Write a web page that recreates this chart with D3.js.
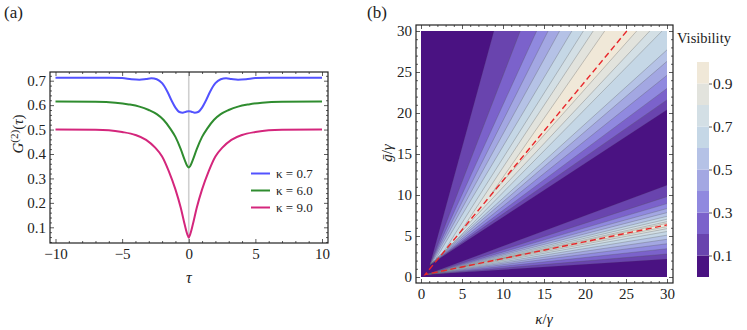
<!DOCTYPE html>
<html>
<head>
<meta charset="utf-8">
<script src="https://cdn.jsdelivr.net/npm/d3@7"></script>
<style>
body { margin: 0; background: #fff; }
svg text { font-family: 'Liberation Serif', 'DejaVu Serif', serif; fill: #222; }
</style>
</head>
<body>
<div id="chart"></div>
<script>

// ---- panel (a): G2(tau) curves
const tauBlue = [-10, -6, -5, -4.3, -3.7, -3.2, -2.8, -2.4, -2.0, -1.6, -1.3, -1.0, -0.7, -0.45, -0.2, 0,
	0.2, 0.45, 0.7, 1.0, 1.3, 1.6, 2.0, 2.4, 2.8, 3.2, 3.7, 4.3, 5, 6, 10]
const g2Blue = [0.712, 0.712, 0.711, 0.706, 0.704, 0.707, 0.710, 0.706, 0.69, 0.655, 0.62, 0.59, 0.572, 0.569, 0.573, 0.575,
	0.573, 0.569, 0.572, 0.59, 0.62, 0.655, 0.69, 0.706, 0.710, 0.707, 0.704, 0.706, 0.711, 0.712, 0.712]

const tauGreen = [-10, -7, -5.5, -4.5, -3.7, -3.0, -2.4, -1.9, -1.4, -1.0, -0.6, -0.3, -0.1, 0,
	0.1, 0.3, 0.6, 1.0, 1.4, 1.9, 2.4, 3.0, 3.7, 4.5, 5.5, 7, 10]
const g2Green = [0.615, 0.614, 0.61, 0.603, 0.594, 0.58, 0.563, 0.54, 0.505, 0.47, 0.42, 0.375, 0.35, 0.345,
	0.35, 0.375, 0.42, 0.47, 0.505, 0.54, 0.563, 0.58, 0.594, 0.603, 0.61, 0.614, 0.615]

const tauMagenta = [-10, -7, -6, -5, -4, -3.2, -2.5, -2.0, -1.5, -1.0, -0.6, -0.3, -0.1, 0,
	0.1, 0.3, 0.6, 1.0, 1.5, 2.0, 2.5, 3.2, 4, 5, 6, 7, 10]
const g2Magenta = [0.5, 0.499, 0.497, 0.49, 0.478, 0.458, 0.425, 0.39, 0.33, 0.255, 0.18, 0.11, 0.07, 0.058,
	0.07, 0.11, 0.18, 0.255, 0.33, 0.39, 0.425, 0.458, 0.478, 0.49, 0.497, 0.499, 0.5]

const legendLabels = ['κ = 0.7', 'κ = 6.0', 'κ = 9.0']
const curveColors = ['#5252ff', '#2f8c2f', '#d4267c']
const xTicksA = [-10, -5, 0, 5, 10]
const yTicksA = [0.1, 0.2, 0.3, 0.4, 0.5, 0.6, 0.7]

// ---- panel (b): visibility contours, each level = left exit -> tip on ridge -> right exit
const levels = [0.1, 0.2, 0.3, 0.4, 0.5, 0.6, 0.7, 0.8, 0.9]
const bandColors = ['#4a1282', '#6944ae', '#7b62cb', '#9089df', '#a3a7e2', '#b5c2e6', '#c5d7e6', '#d3dfe5', '#e2e3dd', '#f0e8d8']
const upperTip = [[1.1, 1.5], [1.1, 1.5], [1.1, 1.5], [1.2, 1.6], [1.4, 1.8], [1.8, 2.2], [2.6, 2.8], [4.6, 5.2], [8.5, 10.0]]
const upperLeftKappa = [8.9, 12.1, 14.1, 15.5, 16.9, 18.4, 19.8, 21.0, 22.4]
const upperRightExit = [[30, 20.4], [30, 21.6], [30, 23.0], [30, 24.6], [30, 26.3], [30, 27.7], [29.4, 30], [27.9, 30], [26.3, 30]]
const lowerTip = [[0.7, 0.3], [0.7, 0.3], [0.8, 0.32], [1.0, 0.36], [1.3, 0.42], [1.8, 0.52], [2.7, 0.72], [4.6, 1.12], [9.0, 2.05]]
const lowerTopG = [11.2, 9.8, 8.95, 8.35, 7.85, 7.4, 7.05, 6.75, 6.55]
const lowerBottomG = [2.2, 2.8, 3.45, 4.05, 4.6, 5.1, 5.55, 5.9, 6.15]
const dashedPath = [[25.1, 30], [0.5, 0.3], [30, 6.35]]
const ticksB = [0, 5, 10, 15, 20, 25, 30]
const colorbarTicks = [0.1, 0.3, 0.5, 0.7, 0.9]

const serif = "'Liberation Serif', 'DejaVu Serif', serif"

const svg = d3.select('#chart')
	.append('svg')
	.attr('width', 747)
	.attr('height', 330)
	.style('font-family', serif)

function frameAxes(g, x, y, box, xt, yt, xMinor, yMinor, fmtX, fmtY, fs){
	let [l, t, r, b] = box
	g.append('g').attr('transform', `translate(0,${b})`)
		.call(d3.axisBottom(x).tickValues(xt).tickSize(-4).tickPadding(5).tickFormat(fmtX))
	g.append('g').attr('transform', `translate(0,${b})`)
		.call(d3.axisBottom(x).tickValues(xMinor).tickSize(-2).tickFormat(''))
	g.append('g').attr('transform', `translate(0,${t})`)
		.call(d3.axisTop(x).tickValues(xt).tickSize(-4).tickFormat(''))
	g.append('g').attr('transform', `translate(0,${t})`)
		.call(d3.axisTop(x).tickValues(xMinor).tickSize(-2).tickFormat(''))
	g.append('g').attr('transform', `translate(${l},0)`)
		.call(d3.axisLeft(y).tickValues(yt).tickSize(-4).tickPadding(4).tickFormat(fmtY))
	g.append('g').attr('transform', `translate(${l},0)`)
		.call(d3.axisLeft(y).tickValues(yMinor).tickSize(-2).tickFormat(''))
	g.append('g').attr('transform', `translate(${r},0)`)
		.call(d3.axisRight(y).tickValues(yt).tickSize(-4).tickFormat(''))
	g.append('g').attr('transform', `translate(${r},0)`)
		.call(d3.axisRight(y).tickValues(yMinor).tickSize(-2).tickFormat(''))
	g.selectAll('.domain').remove()
	g.selectAll('g').attr('font-family', serif)
	g.selectAll('.tick line').attr('stroke', '#333').attr('stroke-width', 0.8)
	g.selectAll('.tick text').attr('font-size', fs).attr('fill', '#222')
	g.append('rect')
		.attr('x', l).attr('y', t)
		.attr('width', r - l).attr('height', b - t)
		.attr('fill', 'none')
		.attr('stroke', '#222')
		.attr('stroke-width', 1.2)
}

// ================= panel (a)
const gA = svg.append('g')

const xA = d3.scaleLinear().domain([-10, 10]).range([55.5, 322])
const yA = d3.scaleLinear().domain([0.1, 0.7]).range([227.3, 80.7])

gA.append('line')
	.attr('x1', xA(0)).attr('x2', xA(0))
	.attr('y1', 72).attr('y2', 243)
	.attr('stroke', '#cfcfcf')
	.attr('stroke-width', 1.6)

let series = [
	{tau: tauBlue, g2: g2Blue},
	{tau: tauGreen, g2: g2Green},
	{tau: tauMagenta, g2: g2Magenta}
]

let lineA = d3.line()
	.x(d => xA(d[0]))
	.y(d => yA(d[1]))
	.curve(d3.curveMonotoneX)

series.forEach(function(s, i){
	gA.append('path')
		.datum(s.tau.map((t, j) => [t, s.g2[j]]))
		.attr('d', lineA)
		.attr('fill', 'none')
		.attr('stroke', curveColors[i])
		.attr('stroke-width', 2)
})

let minorXA = d3.range(-10, 10.5, 1).filter(v => v % 5 !== 0)
let minorYA = d3.range(4, 74, 2).map(v => v / 100).filter(v => Math.round(v * 100) % 10 !== 0)

frameAxes(gA, xA, yA, [50, 72, 328, 243], xTicksA, yTicksA, minorXA, minorYA,
	d => d < 0 ? '\u2212' + Math.abs(d) : d, d3.format('.1f'), 15)

// legend
legendLabels.forEach(function(lab, i){
	let yy = 173.5 + i * 17
	gA.append('line')
		.attr('x1', 251).attr('x2', 270)
		.attr('y1', yy).attr('y2', yy)
		.attr('stroke', curveColors[i])
		.attr('stroke-width', 2)
	gA.append('text')
		.attr('x', 276).attr('y', yy + 4.5)
		.attr('font-size', 13)
		.text(lab)
})

gA.append('text')
	.attr('x', xA(0)).attr('y', 283)
	.attr('text-anchor', 'middle')
	.attr('font-size', 16)
	.attr('font-style', 'italic')
	.text('τ')

let yLabA = gA.append('text')
	.attr('transform', 'translate(23,134) rotate(-90)')
	.attr('text-anchor', 'middle')
	.attr('font-size', 15)
yLabA.append('tspan').attr('font-style', 'italic').text('G')
yLabA.append('tspan').attr('dy', -5).attr('font-size', 11).text('(2)')
yLabA.append('tspan').attr('dy', 5).text('(')
yLabA.append('tspan').attr('font-style', 'italic').text('τ')
yLabA.append('tspan').text(')')

svg.append('text').attr('x', 4).attr('y', 18).attr('font-size', 17).text('(a)')
svg.append('text').attr('x', 367).attr('y', 18).attr('font-size', 17).text('(b)')

// ================= panel (b)
const gB = svg.append('g')

const xB = d3.scaleLinear().domain([0, 30]).range([421, 667])
const yB = d3.scaleLinear().domain([0, 30]).range([277, 31])

gB.append('rect')
	.attr('x', xB(0)).attr('y', yB(30))
	.attr('width', xB(30) - xB(0))
	.attr('height', yB(0) - yB(30))
	.attr('fill', bandColors[0])

let poly = d3.line().x(d => xB(d[0])).y(d => yB(d[1]))

function upperContour(i){
	let right = upperRightExit[i]
	let pts = [[upperLeftKappa[i], 30], upperTip[i], right]
	return pts
}

function lowerContour(i){
	return [[30, lowerTopG[i]], lowerTip[i], [30, lowerBottomG[i]]]
}

levels.forEach(function(lv, i){
	let up = upperContour(i)
	if(up[2][0] === 30) up = up.concat([[30, 30]])
	gB.append('path')
		.attr('d', poly(up) + 'Z')
		.attr('fill', bandColors[i + 1])
	gB.append('path')
		.attr('d', poly(lowerContour(i)) + 'Z')
		.attr('fill', bandColors[i + 1])
})

// contour lines
levels.forEach(function(lv, i){
	[upperContour(i), lowerContour(i)].forEach(function(s){
		gB.append('path')
			.attr('d', poly(s))
			.attr('fill', 'none')
			.attr('stroke', '#555')
			.attr('stroke-opacity', i === 0 ? 0.25 : 0.5)
			.attr('stroke-width', 0.6)
	})
})

gB.append('path')
	.attr('d', poly(dashedPath))
	.attr('fill', 'none')
	.attr('stroke', '#e8262a')
	.attr('stroke-width', 1.4)
	.attr('stroke-dasharray', '6,3.5')

let minorB = d3.range(0, 31, 1).filter(v => v % 5 !== 0)
frameAxes(gB, xB, yB, [416, 25, 673, 283], ticksB, ticksB, minorB, minorB,
	d3.format('d'), d3.format('d'), 15)

gB.append('text')
	.attr('x', 544).attr('y', 324)
	.attr('text-anchor', 'middle')
	.attr('font-size', 15)
	.html('<tspan font-style="italic">κ</tspan>/<tspan font-style="italic">γ</tspan>')

gB.append('text')
	.attr('transform', 'translate(392,153) rotate(-90)')
	.attr('text-anchor', 'middle')
	.attr('font-size', 15)
	.html('<tspan font-style="italic">g\u0304</tspan>/<tspan font-style="italic">γ</tspan>')

// colorbar
const cb = d3.scaleLinear().domain([0, 1]).range([277, 62])
const gC = svg.append('g')

bandColors.forEach(function(c, i){
	gC.append('rect')
		.attr('x', 697).attr('width', 12)
		.attr('y', cb((i + 1) / 10))
		.attr('height', cb(i / 10) - cb((i + 1) / 10))
		.attr('fill', c)
})

gC.append('g')
	.attr('transform', 'translate(709,0)')
	.call(d3.axisRight(cb).tickValues(colorbarTicks).tickSize(3).tickPadding(1).tickFormat(d3.format('.1f')))
gC.selectAll('.domain').remove()
gC.selectAll('g').attr('font-family', serif)
gC.selectAll('.tick line').attr('stroke', '#555')
gC.selectAll('.tick text').attr('font-size', 15.5).attr('fill', '#222')

gC.append('text')
	.attr('x', 677).attr('y', 43)
	.attr('font-size', 14.5)
	.text('Visibility')

</script>
</body>
</html>
